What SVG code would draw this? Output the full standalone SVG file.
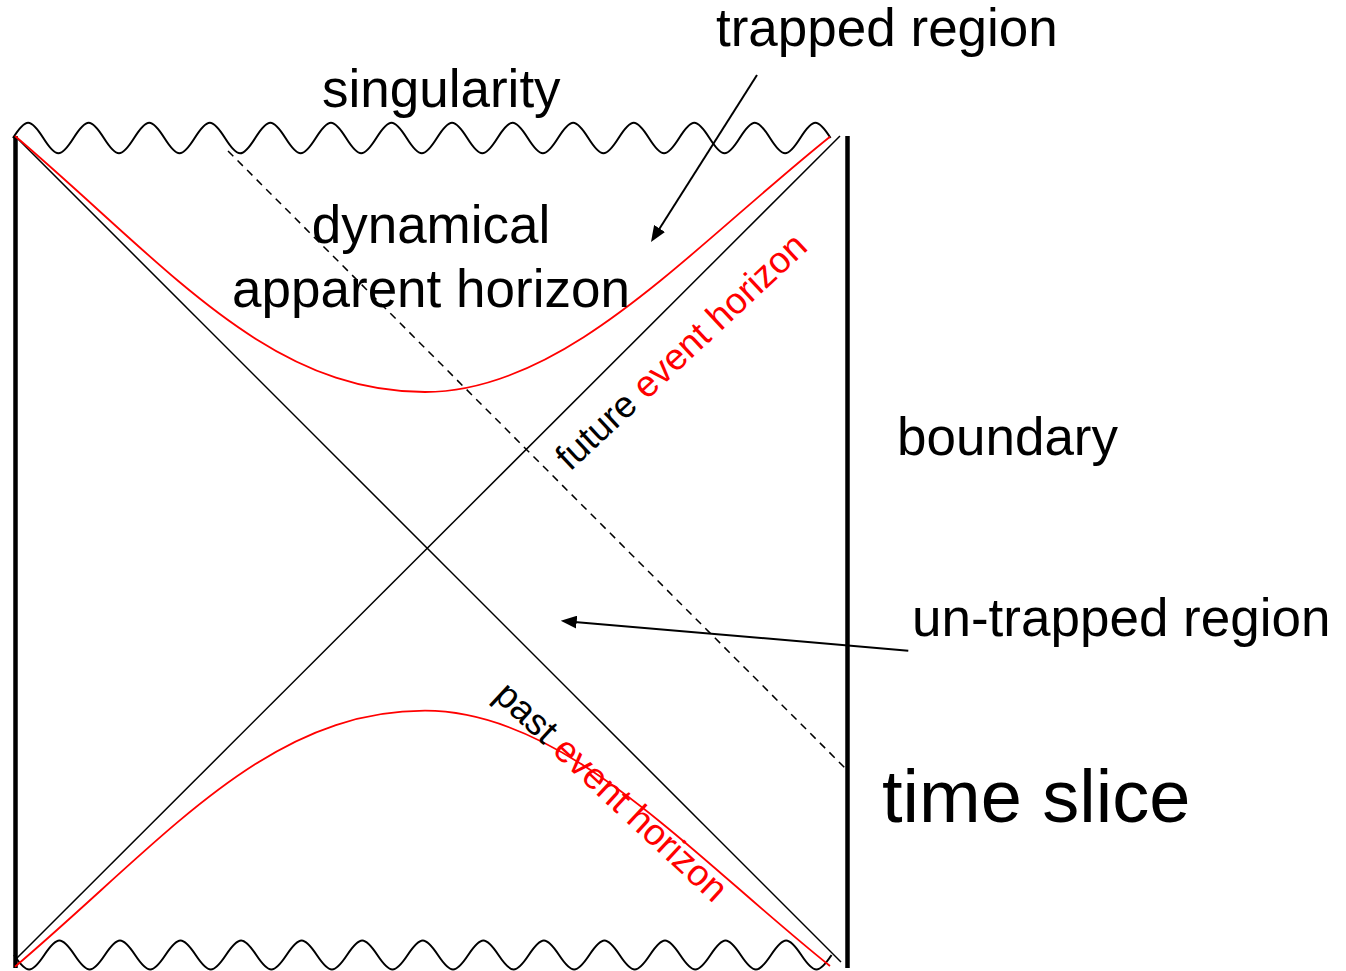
<svg xmlns="http://www.w3.org/2000/svg" width="1346" height="971" viewBox="0 0 1346 971">
<style>
text{font-family:"Liberation Sans",Arial,sans-serif;fill:#000}
.lbl{font-size:53px}
.thin{fill:none;stroke:#000;stroke-width:1.5}
.wave{fill:none;stroke:#000;stroke-width:2}
.red{fill:none;stroke:#f00;stroke-width:1.8}
.bound{stroke:#000;stroke-width:4.5}
.arrow{fill:none;stroke:#000;stroke-width:2;marker-end:url(#ah)}
.rt{fill:#f00}
</style>
<defs>
<marker id="ah" viewBox="0 0 16 13" refX="8" refY="6.5" markerWidth="16" markerHeight="13" markerUnits="userSpaceOnUse" orient="auto"><path d="M0,0 L16,6.5 L0,13 z" fill="#000"/></marker>
</defs>
<rect width="1346" height="971" fill="#fff"/>
<g id="diagram">
<g id="singularity-top">
<path class="wave" d="M13,138 c12.85,-20.4 17.43,-20.4 30.28,0 s17.43,20.4 30.28,0 s17.43,-20.4 30.28,0 s17.43,20.4 30.28,0 s17.43,-20.4 30.28,0 s17.43,20.4 30.28,0 s17.43,-20.4 30.28,0 s17.43,20.4 30.28,0 s17.43,-20.4 30.28,0 s17.43,20.4 30.28,0 s17.43,-20.4 30.28,0 s17.43,20.4 30.28,0 s17.43,-20.4 30.28,0 s17.43,20.4 30.28,0 s17.43,-20.4 30.28,0 s17.43,20.4 30.28,0 s17.43,-20.4 30.28,0 s17.43,20.4 30.28,0 s17.43,-20.4 30.28,0 s17.43,20.4 30.28,0 s17.43,-20.4 30.28,0 s17.43,20.4 30.28,0 s17.43,-20.4 30.28,0 s17.43,20.4 30.28,0 s17.43,-20.4 30.28,0 s17.43,20.4 30.28,0 s17.43,-20.4 30.28,0"/>
</g>
<g id="singularity-bottom">
<path class="wave" d="M14,955 c12.85,19.33 17.43,19.33 30.28,0 s17.43,-19.33 30.28,0 s17.43,19.33 30.28,0 s17.43,-19.33 30.28,0 s17.43,19.33 30.28,0 s17.43,-19.33 30.28,0 s17.43,19.33 30.28,0 s17.43,-19.33 30.28,0 s17.43,19.33 30.28,0 s17.43,-19.33 30.28,0 s17.43,19.33 30.28,0 s17.43,-19.33 30.28,0 s17.43,19.33 30.28,0 s17.43,-19.33 30.28,0 s17.43,19.33 30.28,0 s17.43,-19.33 30.28,0 s17.43,19.33 30.28,0 s17.43,-19.33 30.28,0 s17.43,19.33 30.28,0 s17.43,-19.33 30.28,0 s17.43,19.33 30.28,0 s17.43,-19.33 30.28,0 s17.43,19.33 30.28,0 s17.43,-19.33 30.28,0 s17.43,19.33 30.28,0 s17.43,-19.33 30.28,0 s17.43,19.33 30.28,0"/>
</g>
<g id="boundaries">
<line class="bound" x1="15.5" y1="136" x2="15.5" y2="968"/>
<line class="bound" x1="847.5" y1="136" x2="847.5" y2="968"/>
</g>
<g id="horizons">
<line class="thin" x1="15" y1="136" x2="841" y2="962"/>
<line class="thin" x1="15" y1="960" x2="840" y2="136"/>
</g>
<g id="apparent-horizons">
<path class="red" d="M15,136 C165,263.5 266.4,392 425,392 C565.5,392 690,248.7 830,136.7"/>
<path class="red" d="M15,966.7 C165,839.2 266.4,710.7 425,710.7 C565.5,710.7 690,854 830,966"/>
</g>
<g id="time-slice">
<line class="thin" x1="228" y1="151" x2="845" y2="768" stroke-dasharray="7.5 6"/>
</g>
</g>
<g id="connectors">
<line class="arrow" x1="757" y1="75" x2="655.3" y2="235.2"/>
<line class="arrow" x1="908.3" y1="650.7" x2="568.7" y2="621.4"/>
</g>
<g id="labels">
<text class="lbl" x="716" y="46">trapped region</text>
<text class="lbl" x="322" y="107">singularity</text>
<text class="lbl" x="431" y="243" text-anchor="middle">dynamical</text>
<text class="lbl" x="431" y="307" text-anchor="middle">apparent horizon</text>
<text class="lbl" x="897" y="455">boundary</text>
<text class="lbl" x="912" y="636">un-trapped region</text>
<text x="882" y="822" font-size="74">time slice</text>
<text transform="translate(570,472) rotate(-43)" font-size="37">future <tspan class="rt">event horizon</tspan></text>
<text transform="translate(492.5,697.5) rotate(43)" font-size="37">past <tspan class="rt">event horizon</tspan></text>
</g>
</svg>
